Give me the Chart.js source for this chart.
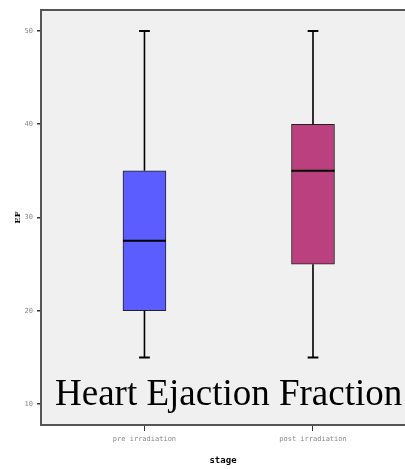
<!DOCTYPE html>
<html>
<head>
<meta charset="utf-8">
<script src="https://cdn.jsdelivr.net/npm/chart.js@4.4.1/dist/chart.umd.min.js"></script>
<style>
html,body{margin:0;padding:0;background:#fff;}
#wrap{width:405px;height:469px;position:relative;}
</style>
</head>
<body>
<div id="wrap"><canvas id="c" width="405" height="469"></canvas></div>
<script>
const categories = ['pre irradiation', 'post irradiation'];
const positions = [1, 2];
const whiskerLow = [15, 15];
const q1 = [20, 25];
const median = [27.5, 35];
const q3 = [35, 40];
const whiskerHigh = [50, 50];
const boxColors = ['#5b5dff', '#ba407e'];
const yTicks = [10, 20, 30, 40, 50];
const annotationText = 'Heart Ejaction Fraction';

const boxPlugin = {
  id: 'boxParts',
  beforeDraw(chart) {
    const {ctx, chartArea: a} = chart;
    ctx.save();
    ctx.fillStyle = '#f0f0f0';
    ctx.fillRect(a.left, a.top, a.right - a.left + 5, a.bottom - a.top);
    ctx.restore();
  },
  afterDatasetsDraw(chart) {
    const {ctx, chartArea: a, scales} = chart;
    const xs = scales.x, ys = scales.y;
    ctx.save();
    ctx.strokeStyle = '#000';
    positions.forEach((p, i) => {
      const x = xs.getPixelForValue(p);
      const meta = chart.getDatasetMeta(0).data[i];
      const half = meta.width / 2;
      ctx.lineWidth = 1.6;
      ctx.beginPath();
      ctx.moveTo(x, ys.getPixelForValue(whiskerHigh[i]));
      ctx.lineTo(x, ys.getPixelForValue(q3[i]));
      ctx.moveTo(x, ys.getPixelForValue(q1[i]));
      ctx.lineTo(x, ys.getPixelForValue(whiskerLow[i]));
      ctx.stroke();
      ctx.lineWidth = 2;
      ctx.beginPath();
      const cap = half / 4;
      [whiskerHigh[i], whiskerLow[i]].forEach(v => {
        const y = ys.getPixelForValue(v);
        ctx.moveTo(x - cap, y); ctx.lineTo(x + cap, y);
      });
      const ym = ys.getPixelForValue(median[i]);
      ctx.moveTo(x - half, ym); ctx.lineTo(x + half, ym);
      ctx.stroke();
    });
    // frame
    ctx.strokeStyle = '#555';
    ctx.lineWidth = 2;
    ctx.beginPath();
    ctx.moveTo(a.right + 5, a.top);
    ctx.lineTo(a.left, a.top);
    ctx.lineTo(a.left, a.bottom);
    ctx.lineTo(a.right + 5, a.bottom);
    ctx.stroke();
    // annotation text
    ctx.fillStyle = '#000';
    ctx.font = '37px "Liberation Serif", "Times New Roman", serif';
    ctx.textBaseline = 'alphabetic';
    ctx.textAlign = 'left';
    ctx.fillText(annotationText, a.left + 14, a.bottom - 20);
    ctx.restore();
  }
};

new Chart(document.getElementById('c'), {
  type: 'bar',
  data: {
    datasets: [{
      data: positions.map((p, i) => ({x: p, y: [q1[i], q3[i]]})),
      backgroundColor: boxColors,
      borderColor: '#222',
      borderWidth: 1,
      borderSkipped: false,
      barThickness: 43
    }]
  },
  options: {
    responsive: false,
    animation: false,
    layout: {padding: {top: 10, right: 0, left: 0, bottom: 0}},
    plugins: {legend: {display: false}, tooltip: {enabled: false}},
    scales: {
      x: {
        type: 'linear',
        offset: false,
        min: 0.386, max: 2.546,
        afterBuildTicks(s) { s.ticks = positions.map(v => ({value: v})); },
        afterFit(s) { s.height = 44; },
        ticks: {
          callback: (v) => categories[positions.indexOf(v)] || '',
          font: {family: '"DejaVu Sans Mono", monospace', size: 7},
          color: '#888', padding: 4, maxRotation: 0, autoSkip: false
        },
        grid: {display: true, offset: false, drawOnChartArea: false, tickLength: 6, color: '#333', lineWidth: 1},
        border: {display: false},
        title: {display: true, text: 'stage', font: {family: '"DejaVu Sans Mono", monospace', size: 9, weight: 'bold'}, color: '#000', padding: {top: 4, bottom: 3}}
      },
      y: {
        min: 7.75, max: 52.25,
        afterBuildTicks(s) { s.ticks = yTicks.map(v => ({value: v})); },
        afterFit(s) { s.width = 41; },
        ticks: {
          font: {family: '"DejaVu Sans Mono", monospace', size: 7},
          color: '#888', padding: 4
        },
        grid: {display: true, drawOnChartArea: false, tickLength: 4, color: '#333', lineWidth: 1.5},
        border: {display: false},
        title: {display: true, text: 'EF', font: {family: '"DejaVu Serif", serif', size: 8, weight: 'bold'}, color: '#000', padding: {top: 13, bottom: 0}}
      }
    }
  },
  plugins: [boxPlugin]
});
</script>
</body>
</html>
